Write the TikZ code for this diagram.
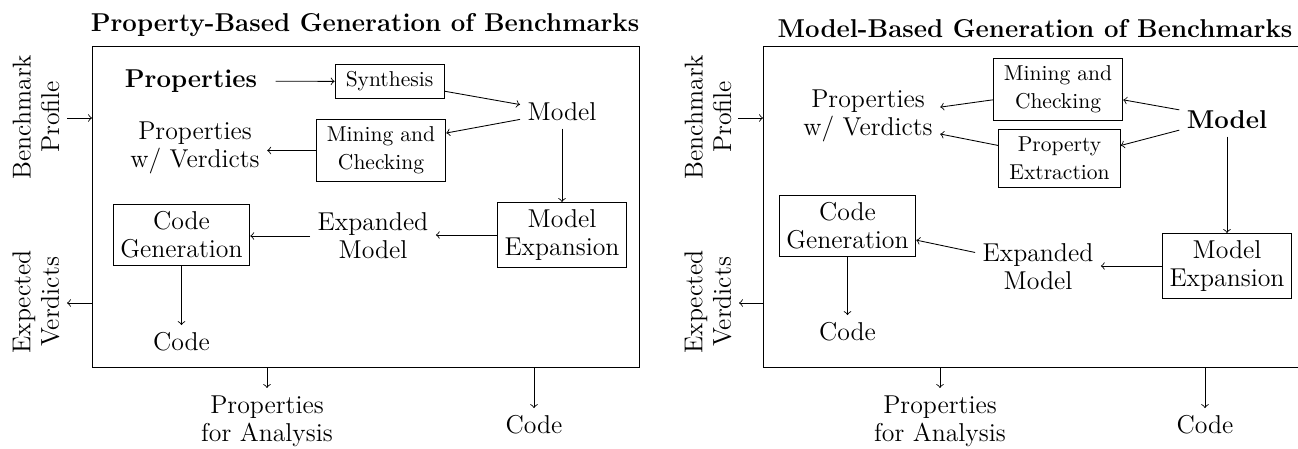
\documentclass[tikz,border=0pt]{standalone}
\usetikzlibrary{calc}
\tikzset{
  txt/.style={align=center, font=\fontsize{12}{13}\selectfont},
  bold/.style={font=\fontsize{12}{14}\selectfont\bfseries},
  box/.style={draw, align=center, font=\fontsize{12}{13}\selectfont},
  smallbox/.style={draw, align=center, inner xsep=5pt, inner ysep=3.5pt, font=\fontsize{10}{12.8}\selectfont},
  side/.style={align=center, rotate=90, font=\fontsize{12}{13.2}\selectfont},
}
\newcommand\frameout[2]{
  \draw[->] (#2.north |- #1) -- (#2);
}

\begin{document}
\begin{tikzpicture}[x=0.465pt,y=-0.465pt]
      \useasboundingbox (0,0) rectangle (1298,448);

      \node[bold] (ltitle) at (365,25) {Property-Based Generation of Benchmarks};
      \coordinate (lfnw) at (92,46);
      \coordinate (lfse) at (639,367);
      \draw (lfnw) rectangle (lfse);

      \node[side] (lbp) at (36,117) {Benchmark\\Profile};
      \node[side] (lev) at (36,302) {Expected\\Verdicts};
      \coordinate (lbpin) at (67,118);
      \coordinate (levout) at (67,303);
      \draw[->] (lbpin) -- (lbpin -| lfnw);
      \draw[->] (levout -| lfnw) -- (levout);

      \node[bold] (lprops) at (191,81) {Properties};
      \node[smallbox] (lsyn) at (389.5,81.5) {Synthesis};
      \node[txt] (lmodel) at (562,112) {Model};
      \node[smallbox] (lmc) at (381,150.5) {Mining and\\Checking};
      \node[txt] (lpwv) at (195,148) {Properties\\w/ Verdicts};
      \node[box] (lme) at (562,235) {Model\\Expansion};
      \node[txt] (lem) at (373,236) {Expanded\\Model};
      \node[box] (lcg) at (181.5,235) {Code\\Generation};
      \node[txt] (lcode) at (181.5,342) {Code};
      \node[txt] (lpfa) at (267,421) {Properties\\for Analysis};
      \node[txt] (lcodeout) at (534,425) {Code};

      \draw[->, shorten <=5pt] (lprops) -- (lsyn);
      \draw[->] (lsyn.-10) -- (lmodel);
      \draw[->] (lmodel.190) -- (lmc.15);
      \draw[->] (lmc.west) -- (lmc.west -| lpwv.east);
      \draw[->] (lmodel) -- (lme);
      \draw[->] (lme.west) -- (lme.west -| lem.east);
      \draw[->] (lem.west) -- (lem.west -| lcg.east);
      \draw[->] (lcg) -- (lcode);
      \frameout{lfse}{lpfa}
      \frameout{lfse}{lcodeout}

      \node[bold] (rtitle) at (1035,29) {Model-Based Generation of Benchmarks};
      \coordinate (rfnw) at (763,46);
      \coordinate (rfse) at (1310,367);
      \draw (rfnw) rectangle (rfse);

      \node[side] (rbp) at (708,117) {Benchmark\\Profile};
      \node[side] (rev) at (708,302) {Expected\\Verdicts};
      \coordinate (rbpin) at (738,118);
      \coordinate (revout) at (739,303);
      \draw[->] (rbpin) -- (rbpin -| rfnw);
      \draw[->] (revout -| rfnw) -- (revout);

      \node[txt] (rpwv) at (868,116) {Properties\\w/ Verdicts};
      \node[smallbox] (rmc) at (1058,89.5) {Mining and\\Checking};
      \node[smallbox] (rpe) at (1059.5,158.5) {Property\\Extraction};
      \node[bold] (rmodel) at (1227,120) {Model};
      \node[box] (rme) at (1227,266) {Model\\Expansion};
      \node[txt] (rem) at (1038,267) {Expanded\\Model};
      \node[box] (rcg) at (847.5,225.5) {Code\\Generation};
      \node[txt] (rcode) at (847.5,332) {Code};
      \node[txt] (rpfa) at (940,421) {Properties\\for Analysis};
      \node[txt] (rcodeout) at (1205,425) {Code};

      \draw[->] (rmodel.168) -- (rmc.-9);
      \draw[->] (rmodel.192) -- (rpe.12);
      \draw[->] (rmc.189) -- (rpwv.7);
      \draw[->] (rpe.168) -- (rpwv.-14);
      \draw[->] (rmodel) -- (rme);
      \draw[->] (rme.west) -- (rme.west -| rem.east);
      \draw[->] (rem.167) -- (rcg.-12);
      \draw[->] (rcg) -- (rcode);
      \frameout{rfse}{rpfa}
      \frameout{rfse}{rcodeout}

    \end{tikzpicture}
\end{document}
